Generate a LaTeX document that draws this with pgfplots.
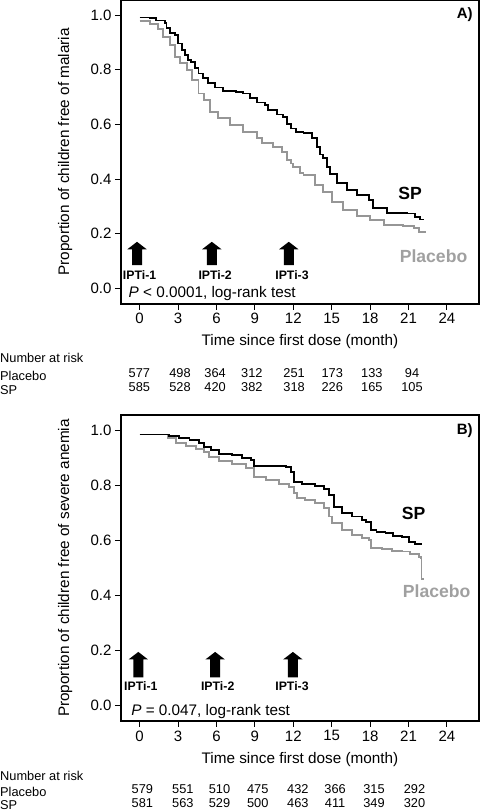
\documentclass[border=0pt]{standalone}
\usepackage{fontspec}
\setmainfont{Liberation Sans}
\usepackage{pgfplots}
\pgfplotsset{compat=1.18}
\definecolor{pgray}{RGB}{150,150,150}
\definecolor{ptext}{RGB}{160,160,160}
\newcommand{\fs}[1]{\fontsize{#1}{#1}\selectfont}
\newcommand{\iptiarrow}[3]{% t, v, shaft length
  \fill[black] (axis cs:#1,#2) -- ++(9.7pt,-7.5pt) -- ++(-4.7pt,0pt) -- ++(0pt,-#3) -- ++(-10pt,0pt) -- ++(0pt,#3) -- ++(-4.7pt,0pt) -- cycle;}
\newcommand{\riskrow}[2]{% y, list
  \foreach \pa/\pn in {#2}{\edef\tmp{\noexpand\node[font=\noexpand\fs{12.8}, inner sep=0pt] at (axis cs:\pa,#1) {\pn};}\tmp}}
\pgfplotsset{km/.style={
  scale only axis, width=358pt,
  xmin=-1.45, xmax=26.5, ymin=-0.057, ymax=1.055,
  axis line style={line width=1.3pt},
  xtick={0,3,...,24}, ytick={0,0.2,0.4,0.6,0.8,1.0},
  tick align=outside, tick pos=left, major tick length=6pt,
  tick style={line width=1pt, black},
  yticklabel style={/pgf/number format/.cd, fixed, fixed zerofill, precision=1},
  /pgf/number format/assume math mode=true,
  ticklabel style={font=\fs{15}},
  xlabel style={font=\fs{15.3}},
  ylabel style={font=\fs{15.3}, at={(axis description cs:-0.156,0.5)}, anchor=center},
  xlabel={Time since first dose (month)},
  clip=false,
}}
\begin{document}
\begin{tikzpicture}
% ---------------- Panel A ----------------
\begin{axis}[km, height=304pt, at={(121pt,506pt)}, anchor=south west,
  xlabel style={at={(axis description cs:0.5,-0.124)}, anchor=center},
  ylabel={Proportion of children free of malaria}]
\addplot[const plot, line width=1.9pt, pgray] coordinates {
(0,0.979)(0.8,0.967)(1.45,0.948)(1.85,0.921)(2.35,0.89)(2.75,0.848)(3.15,0.823)(3.7,0.799)(4.1,0.762)(4.6,0.713)(5.0,0.689)(5.5,0.646)(6.15,0.622)(7.05,0.598)(8.1,0.573)(9.15,0.549)(9.55,0.531)(10.45,0.518)(11.1,0.5)(11.5,0.47)(11.8,0.457)(12.0,0.445)(12.5,0.421)(12.8,0.415)(13.7,0.378)(14.35,0.353)(15.0,0.317)(15.9,0.286)(17.0,0.265)(18.0,0.25)(19.05,0.232)(20.6,0.229)(21.4,0.22)(21.8,0.207)(22.3,0.205)};
\addplot[const plot, line width=1.9pt, black] coordinates {
(0,0.991)(0.8,0.988)(1.3,0.98)(1.95,0.97)(2.1,0.952)(2.35,0.933)(2.75,0.927)(3.0,0.896)(3.3,0.872)(3.55,0.853)(3.8,0.835)(4.05,0.829)(4.3,0.805)(4.6,0.786)(4.95,0.768)(5.35,0.75)(5.9,0.735)(6.5,0.722)(7.5,0.72)(8.1,0.713)(8.6,0.695)(9.15,0.68)(9.8,0.67)(10.05,0.652)(10.7,0.636)(11.2,0.627)(11.5,0.603)(11.8,0.585)(12.2,0.572)(12.8,0.569)(13.45,0.549)(13.85,0.518)(14.1,0.49)(14.35,0.476)(14.6,0.445)(14.9,0.42)(15.4,0.384)(16.2,0.36)(17.0,0.341)(17.9,0.323)(18.25,0.293)(19.3,0.277)(20.9,0.274)(21.5,0.262)(21.9,0.252)(22.2,0.252)};
\iptiarrow{-0.2}{0.1705}{15.8pt}
\iptiarrow{5.64}{0.1705}{15.8pt}
\iptiarrow{11.65}{0.1705}{15.8pt}
\node[font=\fs{12.3}\bfseries] at (axis cs:0.0,0.049) {IPTi-1};
\node[font=\fs{12.3}\bfseries] at (axis cs:5.9,0.049) {IPTi-2};
\node[font=\fs{12.3}\bfseries] at (axis cs:11.9,0.049) {IPTi-3};
\node[anchor=west, font=\fs{15.3}, inner sep=0pt] at (axis cs:-0.87,-0.018) {\textit{P} < 0.0001, log-rank test};
\node[anchor=east, font=\fs{15}\bfseries, inner sep=0pt] at (axis description cs:0.983,0.951) {A)};
\node[font=\fs{17.6}\bfseries] at (axis cs:21.13,0.348) {SP};
\node[font=\fs{17.6}\bfseries, text=ptext] at (axis cs:22.95,0.118) {Placebo};
% number at risk
\node[anchor=west, font=\fs{12.8}, inner sep=0pt] at (axis cs:-10.9,-0.256) {Number at risk};
\node[anchor=west, font=\fs{12.8}, inner sep=0pt] at (axis cs:-10.9,-0.321) {Placebo};
\node[anchor=west, font=\fs{12.8}, inner sep=0pt] at (axis cs:-10.9,-0.372) {SP};
\riskrow{-0.311}{-0.02/577,3.16/498,5.9/364,8.77/312,12.07/251,15.04/173,18.14/133,21.27/94}
\riskrow{-0.362}{-0.02/585,3.16/528,5.9/420,8.77/382,12.07/318,15.04/226,18.14/165,21.27/105}
\end{axis}
% ---------------- Panel B ----------------
\begin{axis}[km, height=306pt, at={(121pt,89pt)}, anchor=south west,
  xlabel style={at={(axis description cs:0.5,-0.127)}, anchor=center},
  ylabel={Proportion of children free of severe anemia}]
\addplot[const plot, line width=1.9pt, pgray] coordinates {
(0,0.984)(1.8,0.984)(2.2,0.97)(2.85,0.952)(3.6,0.942)(4.4,0.93)(5.05,0.921)(5.45,0.903)(6.2,0.889)(7.25,0.877)(8.3,0.861)(8.95,0.831)(9.85,0.819)(10.9,0.804)(11.7,0.792)(12.05,0.77)(12.3,0.752)(12.95,0.746)(13.7,0.734)(14.4,0.716)(14.8,0.686)(15.0,0.661)(15.8,0.637)(16.6,0.619)(17.4,0.607)(17.9,0.601)(18.1,0.571)(18.9,0.567)(19.7,0.562)(20.5,0.559)(21.1,0.55)(21.8,0.54)(22.0,0.535)(22.01,0.46)(22.2,0.46)};
\addplot[const plot, line width=1.9pt, black] coordinates {
(0,0.984)(1.8,0.984)(2.3,0.979)(3.1,0.97)(3.9,0.963)(4.65,0.954)(5.05,0.94)(5.55,0.927)(6.2,0.912)(7.25,0.909)(8.0,0.9)(8.7,0.891)(8.95,0.87)(11.4,0.866)(11.8,0.849)(12.05,0.813)(12.7,0.804)(13.7,0.797)(14.4,0.785)(14.8,0.764)(15.15,0.722)(15.8,0.698)(16.6,0.686)(17.4,0.673)(17.7,0.667)(18.1,0.637)(18.5,0.629)(19.2,0.625)(19.8,0.615)(20.5,0.611)(21.0,0.595)(21.5,0.586)(22.05,0.586)};
\iptiarrow{-0.1}{0.194}{18pt}
\iptiarrow{5.9}{0.194}{18pt}
\iptiarrow{11.97}{0.194}{18pt}
\node[font=\fs{12.3}\bfseries] at (axis cs:0.1,0.069) {IPTi-1};
\node[font=\fs{12.3}\bfseries] at (axis cs:6.1,0.069) {IPTi-2};
\node[font=\fs{12.3}\bfseries] at (axis cs:11.9,0.069) {IPTi-3};
\node[anchor=west, font=\fs{15.3}, inner sep=0pt] at (axis cs:-0.66,-0.022) {\textit{P} = 0.047, log-rank test};
\node[anchor=east, font=\fs{15}\bfseries, inner sep=0pt] at (axis description cs:0.983,0.949) {B)};
\node[font=\fs{17.6}\bfseries] at (axis cs:21.4,0.698) {SP};
\node[font=\fs{17.6}\bfseries, text=ptext] at (axis cs:23.2,0.416) {Placebo};
\node[anchor=west, font=\fs{12.8}, inner sep=0pt] at (axis cs:-10.9,-0.255) {Number at risk};
\node[anchor=west, font=\fs{12.8}, inner sep=0pt] at (axis cs:-10.9,-0.314) {Placebo};
\node[anchor=west, font=\fs{12.8}, inner sep=0pt] at (axis cs:-10.9,-0.362) {SP};
\riskrow{-0.306}{0.22/579,3.38/551,6.24/510,9.23/475,12.36/432,15.27/366,18.3/315,21.46/292}
\riskrow{-0.357}{0.22/581,3.38/563,6.24/529,9.23/500,12.36/463,15.27/411,18.3/349,21.46/320}
\end{axis}
\pgfresetboundingbox
\path[use as bounding box] (0pt,0pt) rectangle (480pt,810pt);
\end{tikzpicture}
\end{document}
